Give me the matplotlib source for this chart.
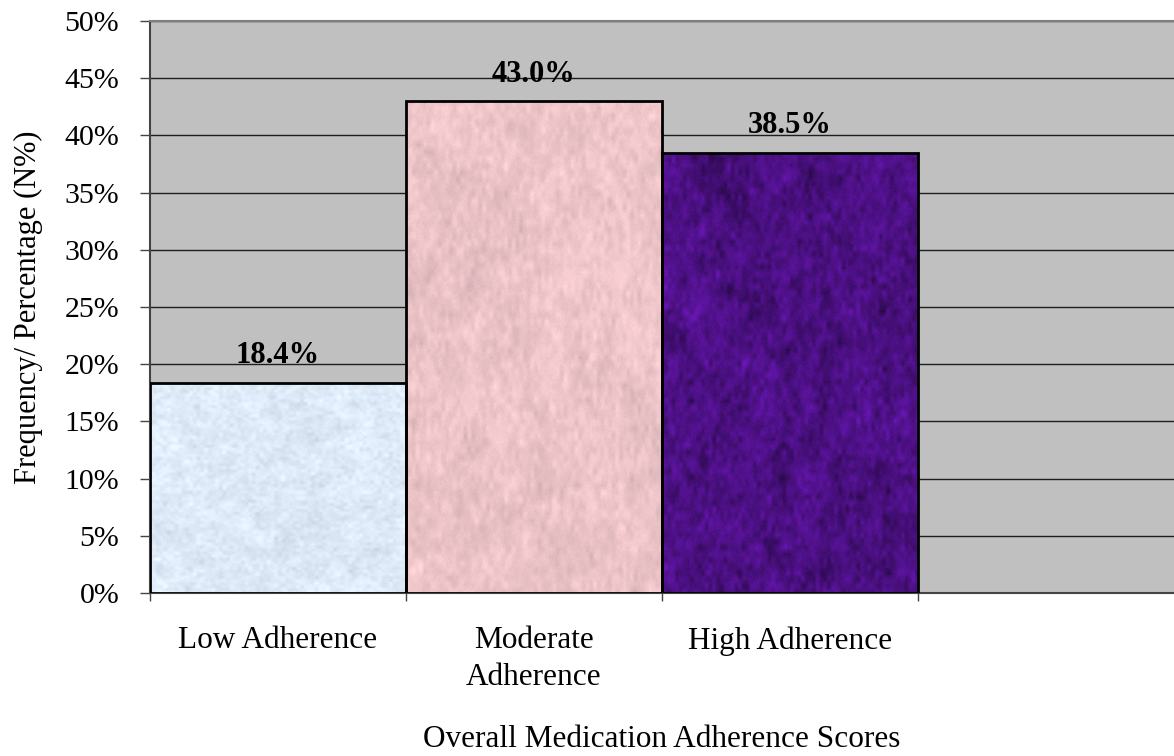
import numpy as np
import matplotlib
matplotlib.use("Agg")
import matplotlib.pyplot as plt
from matplotlib.ticker import FuncFormatter, FixedLocator
from matplotlib.colors import to_rgb

categories = ["Low Adherence", "Moderate\nAdherence", "High Adherence"]
percentages = [18.4, 43.0, 38.5]
bar_colors = ["#deeaf8", "#ecc4c8", "#4a1080"]
y_ticks = [0, 5, 10, 15, 20, 25, 30, 35, 40, 45, 50]

plt.rcParams["font.family"] = ["Liberation Serif", "DejaVu Serif"]


def smooth_noise(rng, cells, size):
    """Value noise: a coarse normal grid, linearly interpolated up to size x size."""
    grid = rng.normal(size=(cells, cells))
    src = np.arange(cells)
    dst = np.linspace(0, cells - 1, size)
    rows = np.array([np.interp(dst, src, r) for r in grid])
    return np.array([np.interp(dst, src, c) for c in rows.T]).T


def paper_texture(color, amp, seed, size=300):
    rng = np.random.default_rng(seed)
    n = (smooth_noise(rng, 6, size) * 0.2 + smooth_noise(rng, 20, size) * 0.35
         + smooth_noise(rng, 70, size) * 0.5 + rng.normal(size=(size, size)) * 0.2)
    n /= n.std()
    base = np.array(to_rgb(color))
    img = base[None, None, :] * (1 + amp * n[..., None])
    return np.clip(img, 0, 1)


fig = plt.figure(figsize=(11.74, 7.56), dpi=100)
ax = fig.add_axes([150 / 1174, 163 / 756, 1 - 150 / 1174, (593 - 21) / 756])
ax.set_facecolor("#c0c0c0")

x = list(range(len(categories)))
bars = ax.bar(x, percentages, width=1.0, facecolor="none",
              edgecolor="black", linewidth=2, zorder=4)

# textured fill for each bar, clipped to its rectangle
amps = [0.025, 0.03, 0.12]
for i, (rect, col, amp) in enumerate(zip(bars, bar_colors, amps)):
    x0, w, h = rect.get_x(), rect.get_width(), rect.get_height()
    im = ax.imshow(paper_texture(col, amp, seed=11 + i),
                   extent=(x0, x0 + w, 0, h), aspect="auto",
                   interpolation="bilinear", zorder=3)
    im.set_clip_path(rect)

for rect, val in zip(bars, percentages):
    ax.annotate(f"{val:.1f}%", (rect.get_x() + rect.get_width() / 2, val),
                xytext=(0, 14), textcoords="offset points",
                ha="center", va="baseline", fontsize=22, fontweight="bold",
                zorder=5)

ax.set_xlim(-0.5, 3.5)
ax.set_ylim(0, 50)
ax.set_yticks(y_ticks)
ax.yaxis.set_major_formatter(FuncFormatter(lambda v, p: f"{v:.0f}%"))
ax.yaxis.grid(True, color="#1e1e1e", linewidth=1.0, zorder=1)
ax.set_axisbelow(True)

# category labels sit in the middle of each slot, tick marks at slot edges
ax.xaxis.set_major_locator(FixedLocator([-0.5, 0.5, 1.5, 2.5]))
ax.xaxis.set_major_formatter(FuncFormatter(lambda v, p: ""))
ax.xaxis.set_minor_locator(FixedLocator(x))
ax.set_xticklabels(categories, minor=True)
for lbl in ax.get_xticklabels(minor=True):
    lbl.set_linespacing(1.35)
ax.tick_params(axis="x", which="minor", length=0, pad=24, labelsize=22.5)
ax.tick_params(axis="x", which="major", length=6, width=1, color="#444444")
ax.tick_params(axis="y", length=7.2, width=1, color="#444444", pad=15,
               labelsize=21.5)

for side in ("left", "bottom"):
    ax.spines[side].set_color("#444444")
    ax.spines[side].set_linewidth(1.5)
ax.spines["top"].set_color("#7f7f7f")
ax.spines["top"].set_linewidth(1.5)
ax.spines["right"].set_visible(False)

ax.set_ylabel("Frequency/ Percentage (N%)", fontsize=22)
ax.yaxis.label.set_va("center")
ax.yaxis.set_label_coords((28 - 150) / 1024, 0.5)

ax.set_xlabel("Overall Medication Adherence Scores", fontsize=22.5)
ax.xaxis.label.set_va("baseline")
ax.xaxis.set_label_coords(0.5, (593 - 747) / 572)

fig.savefig("out.png", dpi=100)
